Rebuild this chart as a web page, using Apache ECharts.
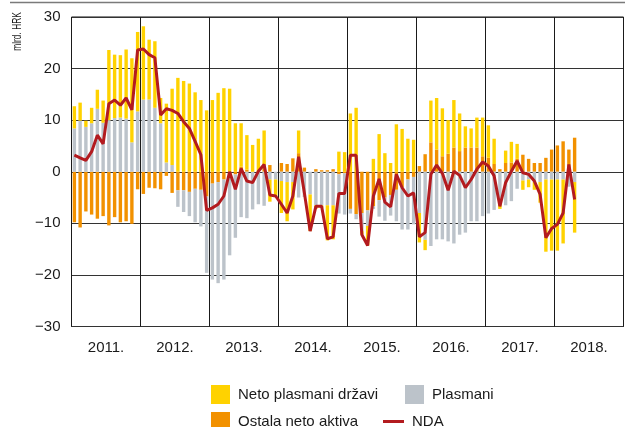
<!DOCTYPE html>
<html>
<head>
<meta charset="utf-8">
<script src="https://cdn.jsdelivr.net/npm/echarts@6/dist/echarts.min.js"></script>
<style>
  html, body { margin: 0; padding: 0; background: #fff; }
  #chart { width: 625px; height: 427px; }
</style>
</head>
<body>
<div id="chart"></div>
<script>
// Year labels for the x axis (one band per year, monthly bars inside)
const years = ['2011.', '2012.', '2013.', '2014.', '2015.', '2016.', '2017.', '2018.'];

// Monthly contributions, bn HRK, Jan 2011 – Apr 2018
const ostalaNetoAktiva = [
  -9.8, -10.8, -7.7, -8.3, -9.1, -8.6, -10.4, -8.8, -9.8, -9.6, -10.1, -3.4,
  -4.3, -3.1, -3.2, -3.4, -0.8, -4.1, -3.6, -3.6, -3.9, -3.3, -3.5, -4.8,
  -2.3, -2.0, -1.5, -1.0, -0.5, 1.0, 0.4, 0, 0, 1.2, 1.3, 0,
  1.7, 1.5, 2.6, 3.6, 0.8, 0, 0.5, 0.3, 0.3, 0.5, -0.5, -0.3,
  -7.2, -8.2, -8.0, -7.5, -6.7, -5.5, -5.0, -4.5, -3.5, -3.0, -1.5, -1.0,
  1.1, 3.4, 5.7, 4.3, 3.0, 3.5, 4.7, 4.0, 4.7, 4.7, 4.7, 3.0,
  2.7, 1.5, 0.5, 1.7, 1.8, 2.5, 3.3, 2.5, 1.7, 1.7, 2.7, 4.3,
  5.1, 5.9, 4.3, 6.6
];

const plasmani = [
  8.4, 9.9, 8.7, 9.4, 12.2, 9.5, 10.0, 10.4, 10.5, 10.3, 5.7, 11.7,
  14.0, 14.0, 12.4, 9.4, 1.8, 1.3, -3.2, -4.2, -4.7, -6.5, -7.1, -14.8,
  -18.6, -19.6, -19.4, -15.2, -12.3, -8.8, -9.0, -7.3, -6.3, -6.6, -1.5, -1.5,
  -1.8, -2.0, -2.0, -5.0, -4.9, -4.4, -6.5, -6.5, -6.5, -6.5, -7.6, -8.0,
  -0.9, -1.0, -3.5, -3.0, -0.5, -3.2, -4.5, -4.0, -6.1, -8.2, -9.7, -9.2,
  -8.0, -13.2, -14.4, -13.1, -13.1, -13.5, -13.9, -12.2, -11.8, -9.6, -9.6, -8.6,
  -8.1, -7.4, -6.0, -6.5, -5.7, -3.3, -1.7, -1.5, -2.0, -2.0, -1.5, -1.5,
  -1.5, -1.5, -2.9, -2.0
];

const netoPlasmaniDrzavi = [
  4.3, 3.5, 1.2, 3.0, 3.7, 4.3, 13.6, 12.3, 12.1, 13.4, 16.3, 15.4,
  14.2, 11.6, 12.9, 4.9, 11.4, 14.8, 18.2, 17.6, 17.1, 15.4, 13.9, 11.9,
  13.9, 15.3, 16.2, 16.1, 9.4, 8.4, 6.7, 5.2, 6.4, 6.8, -4.3, -3.2,
  -6.2, -7.6, -5.3, 4.4, 0, -7.1, -0.7, -0.5, -6.8, -6.6, 3.9, 3.8,
  11.3, 12.4, -0.7, -3.8, 2.5, 7.3, 3.6, 1.7, 9.2, 8.3, 6.4, 6.2,
  -5.7, -2.0, 8.1, 10.0, 9.3, 6.5, 9.2, 7.3, 4.1, 3.7, 5.8, 7.5,
  6.3, 4.9, -1.2, 2.4, 4.0, 2.9, -1.8, -1.5, -1.5, -4.0, -14.0, -13.8,
  -13.8, -12.4, 0, -9.8
];

const nda = [
  3.2, 2.7, 2.2, 3.9, 7.1, 5.4, 13.2, 13.9, 12.9, 14.3, 12.0, 23.6,
  23.8, 22.7, 22.1, 11.0, 12.2, 11.9, 11.3, 9.7, 8.4, 5.9, 3.3, -7.5,
  -7.0, -6.3, -4.7, 0.0, -3.4, 0.6, -1.8, -2.1, 0.1, 1.4, -4.5, -4.7,
  -6.3, -8.0, -4.7, 2.9, -4.1, -11.5, -6.7, -6.7, -13.0, -12.6, -4.2, -4.2,
  3.2, 3.2, -12.2, -14.3, -4.7, -1.4, -5.9, -6.8, -0.5, -3.1, -4.7, -4.1,
  -12.6, -11.8, -0.5, 1.3, -0.3, -3.6, 0.1, -0.7, -3.1, -1.5, 0.5, 1.9,
  1.1, -0.8, -6.7, -2.1, 0.1, 2.1, -0.2, -0.5, -1.8, -4.4, -12.8, -11.0,
  -10.2, -8.0, 1.4, -5.4
];

// One category per month across all year bands
const months = [];
years.forEach(function (y) {
  for (let m = 1; m <= 12; m++) months.push(y + m);
});

const FONT = "'Liberation Sans', Arial, sans-serif";
const TEXT = '#1a1a1a';
const C_YELLOW = '#FFD200';
const C_GREY = '#BCC3CA';
const C_ORANGE = '#F29100';
const C_RED = '#B31B1F';

const legendBase = {
  icon: 'rect',
  itemWidth: 19,
  itemHeight: 19,
  padding: 0,
  selectedMode: false,
  textStyle: { fontFamily: FONT, fontSize: 15, color: TEXT, padding: [0, 0, 0, 3] }
};

const chart = echarts.init(document.getElementById('chart'), null, { renderer: 'canvas' });
chart.setOption({
  animation: false,
  backgroundColor: '#fff',
  grid: {
    left: 71.5, top: 17, right: 1.5, bottom: 100.5,
    show: true, borderColor: '#111', borderWidth: 1, backgroundColor: 'transparent'
  },
  xAxis: [
    { type: 'category', data: months, show: false, boundaryGap: true },
    {
      type: 'category', data: years, position: 'bottom', boundaryGap: true,
      axisLine: { show: false }, axisTick: { show: false },
      axisLabel: { margin: 14, fontFamily: FONT, fontSize: 15, color: TEXT },
      splitLine: { show: true, lineStyle: { color: '#1a1a1a', width: 1 } }
    }
  ],
  yAxis: {
    type: 'value', min: -30, max: 30, interval: 10,
    axisLine: { show: false }, axisTick: { show: false },
    axisLabel: {
      margin: 11, fontFamily: FONT, fontSize: 15, color: TEXT,
      formatter: function (v) { return String(v).replace('-', '\u2212'); }
    },
    splitLine: { lineStyle: { color: '#333', width: 1 } }
  },
  legend: [
    Object.assign({}, legendBase, { data: ['Neto plasmani državi'], left: 211, top: 385 }),
    Object.assign({}, legendBase, { data: ['Plasmani'], left: 405, top: 385 }),
    Object.assign({}, legendBase, { data: ['Ostala neto aktiva'], left: 211, top: 412 }),
    Object.assign({}, legendBase, { data: ['NDA'], left: 383, top: 414, itemWidth: 21, itemHeight: 3 })
  ],
  graphic: [
    {
      type: 'line', silent: true,
      shape: { x1: 10, y1: 2.5, x2: 625, y2: 2.5 },
      style: { stroke: '#7a7a7a', lineWidth: 1.5 }
    },
    {
      // axis unit, set in a condensed width
      type: 'text', silent: true, x: 17, y: 31.5, rotation: Math.PI / 2, scaleX: 0.62,
      style: {
        text: 'mlrd. HRK', fill: TEXT, font: "13.5px " + FONT,
        textAlign: 'center', textVerticalAlign: 'middle'
      }
    }
  ],
  series: [
    { name: 'Ostala neto aktiva', type: 'bar', stack: 'nda', barWidth: 3.4, data: ostalaNetoAktiva, itemStyle: { color: C_ORANGE } },
    { name: 'Plasmani', type: 'bar', stack: 'nda', barWidth: 3.4, data: plasmani, itemStyle: { color: C_GREY } },
    { name: 'Neto plasmani državi', type: 'bar', stack: 'nda', barWidth: 3.4, data: netoPlasmaniDrzavi, itemStyle: { color: C_YELLOW } },
    {
      name: 'NDA', type: 'line', data: nda, symbol: 'none', z: 5,
      lineStyle: { color: C_RED, width: 3 }, itemStyle: { color: C_RED }
    }
  ]
});
</script>
</body>
</html>
